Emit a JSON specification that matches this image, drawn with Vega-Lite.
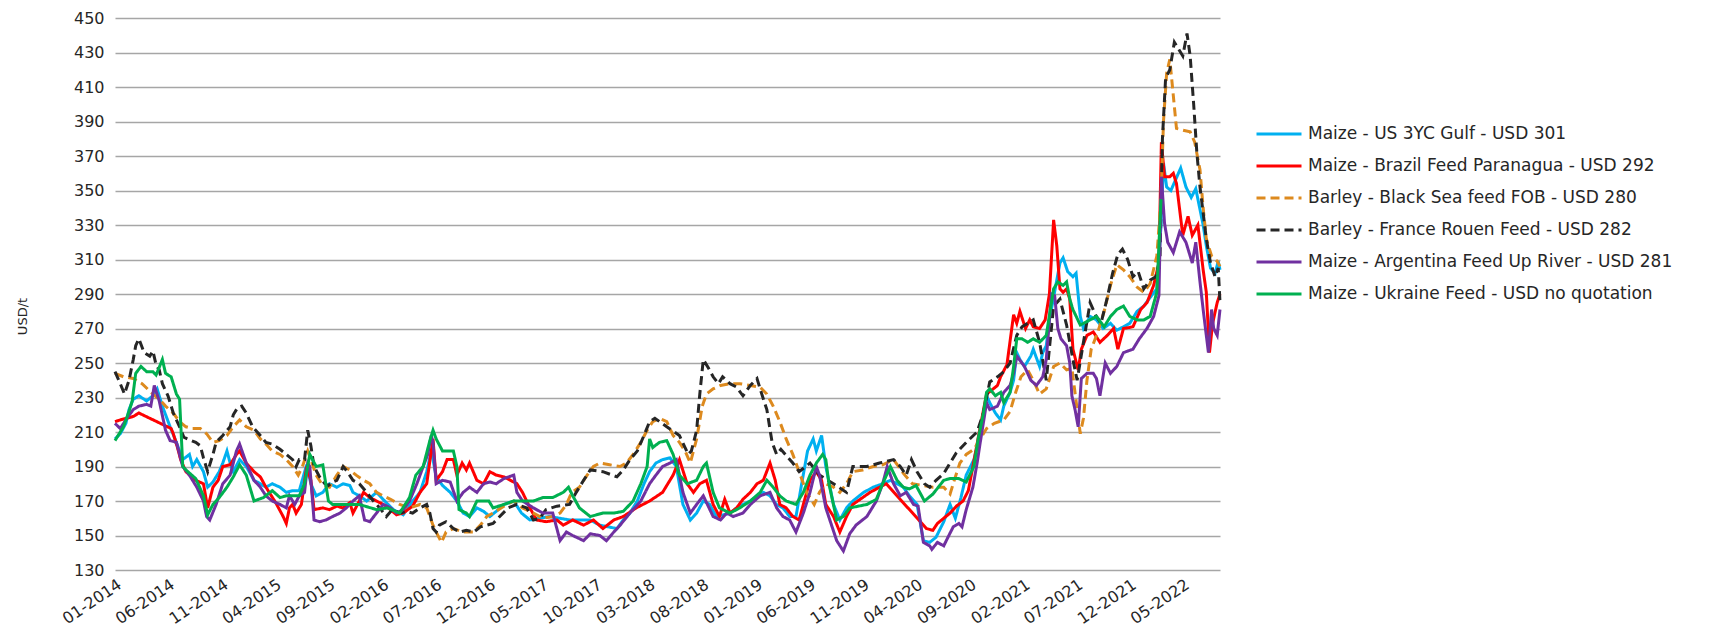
{
"$schema": "https://vega.github.io/schema/vega-lite/v6.json",
"width": 1105, "height": 552,
"autosize": {"type": "none"},
"padding": {"left": 115, "top": 18, "right": 491, "bottom": 74},
"background": "white",
"config": {"view": {"stroke": null}, "font": "DejaVu Sans"},
"data": {"values": [
{"s":"us","d":"2014-01-01","v":206},{"s":"us","d":"2014-01-16","v":209},{"s":"us","d":"2014-02-01","v":215},{"s":"us","d":"2014-02-10","v":223},{"s":"us","d":"2014-02-22","v":229},{"s":"us","d":"2014-03-10","v":231},{"s":"us","d":"2014-04-01","v":228},{"s":"us","d":"2014-04-19","v":231},{"s":"us","d":"2014-05-01","v":235},{"s":"us","d":"2014-05-16","v":225},{"s":"us","d":"2014-06-07","v":213},{"s":"us","d":"2014-06-25","v":204},{"s":"us","d":"2014-07-04","v":199},{"s":"us","d":"2014-07-13","v":194},{"s":"us","d":"2014-08-01","v":197},{"s":"us","d":"2014-08-10","v":190},{"s":"us","d":"2014-08-22","v":194},{"s":"us","d":"2014-09-10","v":187},{"s":"us","d":"2014-09-22","v":178},{"s":"us","d":"2014-10-07","v":181},{"s":"us","d":"2014-10-25","v":187},{"s":"us","d":"2014-11-04","v":192},{"s":"us","d":"2014-11-16","v":199},{"s":"us","d":"2014-11-25","v":192},{"s":"us","d":"2014-12-04","v":187},{"s":"us","d":"2014-12-22","v":194},{"s":"us","d":"2015-01-10","v":190},{"s":"us","d":"2015-02-01","v":182},{"s":"us","d":"2015-02-19","v":180},{"s":"us","d":"2015-03-07","v":178},{"s":"us","d":"2015-03-25","v":180},{"s":"us","d":"2015-04-16","v":178},{"s":"us","d":"2015-05-04","v":175},{"s":"us","d":"2015-05-22","v":176},{"s":"us","d":"2015-06-10","v":176},{"s":"us","d":"2015-07-01","v":191},{"s":"us","d":"2015-07-13","v":180},{"s":"us","d":"2015-07-28","v":173},{"s":"us","d":"2015-08-16","v":175},{"s":"us","d":"2015-09-04","v":180},{"s":"us","d":"2015-09-25","v":178},{"s":"us","d":"2015-10-13","v":180},{"s":"us","d":"2015-11-01","v":179},{"s":"us","d":"2015-11-10","v":175},{"s":"us","d":"2015-11-28","v":173},{"s":"us","d":"2015-12-19","v":170},{"s":"us","d":"2016-01-16","v":175},{"s":"us","d":"2016-02-13","v":169},{"s":"us","d":"2016-03-04","v":165},{"s":"us","d":"2016-04-01","v":162},{"s":"us","d":"2016-04-28","v":170},{"s":"us","d":"2016-05-19","v":175},{"s":"us","d":"2016-06-07","v":187},{"s":"us","d":"2016-06-20","v":199},{"s":"us","d":"2016-06-25","v":194},{"s":"us","d":"2016-07-04","v":184},{"s":"us","d":"2016-07-22","v":179},{"s":"us","d":"2016-08-13","v":175},{"s":"us","d":"2016-09-01","v":170},{"s":"us","d":"2016-09-19","v":163},{"s":"us","d":"2016-10-07","v":161},{"s":"us","d":"2016-10-28","v":166},{"s":"us","d":"2016-11-16","v":164},{"s":"us","d":"2016-12-04","v":161},{"s":"us","d":"2016-12-22","v":164},{"s":"us","d":"2017-01-13","v":168},{"s":"us","d":"2017-02-10","v":170},{"s":"us","d":"2017-03-04","v":163},{"s":"us","d":"2017-03-28","v":159},{"s":"us","d":"2017-05-22","v":161},{"s":"us","d":"2017-07-19","v":159},{"s":"us","d":"2017-09-16","v":159},{"s":"us","d":"2017-10-13","v":156},{"s":"us","d":"2017-12-01","v":154},{"s":"us","d":"2017-12-19","v":159},{"s":"us","d":"2018-01-07","v":163},{"s":"us","d":"2018-01-28","v":170},{"s":"us","d":"2018-02-16","v":180},{"s":"us","d":"2018-03-04","v":187},{"s":"us","d":"2018-03-22","v":192},{"s":"us","d":"2018-04-10","v":194},{"s":"us","d":"2018-05-01","v":195},{"s":"us","d":"2018-05-19","v":190},{"s":"us","d":"2018-06-07","v":168},{"s":"us","d":"2018-06-28","v":159},{"s":"us","d":"2018-07-16","v":163},{"s":"us","d":"2018-08-04","v":170},{"s":"us","d":"2018-08-22","v":168},{"s":"us","d":"2018-09-10","v":161},{"s":"us","d":"2018-10-19","v":163},{"s":"us","d":"2018-11-07","v":166},{"s":"us","d":"2018-11-25","v":168},{"s":"us","d":"2018-12-16","v":170},{"s":"us","d":"2019-01-04","v":173},{"s":"us","d":"2019-01-22","v":175},{"s":"us","d":"2019-02-10","v":173},{"s":"us","d":"2019-02-28","v":168},{"s":"us","d":"2019-03-19","v":166},{"s":"us","d":"2019-04-07","v":161},{"s":"us","d":"2019-04-25","v":161},{"s":"us","d":"2019-05-13","v":182},{"s":"us","d":"2019-05-28","v":199},{"s":"us","d":"2019-06-13","v":206},{"s":"us","d":"2019-06-22","v":199},{"s":"us","d":"2019-07-07","v":208},{"s":"us","d":"2019-07-19","v":190},{"s":"us","d":"2019-08-10","v":168},{"s":"us","d":"2019-08-28","v":159},{"s":"us","d":"2019-09-16","v":166},{"s":"us","d":"2019-10-04","v":170},{"s":"us","d":"2019-11-04","v":175},{"s":"us","d":"2019-12-01","v":178},{"s":"us","d":"2019-12-28","v":180},{"s":"us","d":"2020-01-19","v":182},{"s":"us","d":"2020-02-07","v":180},{"s":"us","d":"2020-02-25","v":178},{"s":"us","d":"2020-03-13","v":173},{"s":"us","d":"2020-04-04","v":168},{"s":"us","d":"2020-04-22","v":147},{"s":"us","d":"2020-05-10","v":146},{"s":"us","d":"2020-05-28","v":149},{"s":"us","d":"2020-06-19","v":158},{"s":"us","d":"2020-07-07","v":168},{"s":"us","d":"2020-07-22","v":160},{"s":"us","d":"2020-08-07","v":172},{"s":"us","d":"2020-08-22","v":185},{"s":"us","d":"2020-09-13","v":194},{"s":"us","d":"2020-10-01","v":209},{"s":"us","d":"2020-10-19","v":231},{"s":"us","d":"2020-10-28","v":227},{"s":"us","d":"2020-11-13","v":221},{"s":"us","d":"2020-11-28","v":217},{"s":"us","d":"2020-12-07","v":225},{"s":"us","d":"2020-12-25","v":233},{"s":"us","d":"2021-01-04","v":240},{"s":"us","d":"2021-01-13","v":256},{"s":"us","d":"2021-01-22","v":252},{"s":"us","d":"2021-02-04","v":248},{"s":"us","d":"2021-02-22","v":254},{"s":"us","d":"2021-03-01","v":258},{"s":"us","d":"2021-03-19","v":248},{"s":"us","d":"2021-03-28","v":256},{"s":"us","d":"2021-04-07","v":260},{"s":"us","d":"2021-04-16","v":275},{"s":"us","d":"2021-04-28","v":288},{"s":"us","d":"2021-05-16","v":308},{"s":"us","d":"2021-05-25","v":311},{"s":"us","d":"2021-06-07","v":303},{"s":"us","d":"2021-06-22","v":300},{"s":"us","d":"2021-07-01","v":302},{"s":"us","d":"2021-07-13","v":277},{"s":"us","d":"2021-07-22","v":270},{"s":"us","d":"2021-08-10","v":277},{"s":"us","d":"2021-08-28","v":275},{"s":"us","d":"2021-09-16","v":270},{"s":"us","d":"2021-10-07","v":273},{"s":"us","d":"2021-10-25","v":269},{"s":"us","d":"2021-11-13","v":271},{"s":"us","d":"2021-12-01","v":273},{"s":"us","d":"2021-12-22","v":280},{"s":"us","d":"2022-01-10","v":283},{"s":"us","d":"2022-01-28","v":288},{"s":"us","d":"2022-02-16","v":293},{"s":"us","d":"2022-02-28","v":330},{"s":"us","d":"2022-03-07","v":366},{"s":"us","d":"2022-03-16","v":352},{"s":"us","d":"2022-03-28","v":350},{"s":"us","d":"2022-04-10","v":356},{"s":"us","d":"2022-04-25","v":363},{"s":"us","d":"2022-05-10","v":352},{"s":"us","d":"2022-05-25","v":346},{"s":"us","d":"2022-06-07","v":351},{"s":"us","d":"2022-06-16","v":342},{"s":"us","d":"2022-06-28","v":330},{"s":"us","d":"2022-07-07","v":318},{"s":"us","d":"2022-07-19","v":305},{"s":"us","d":"2022-08-01","v":302},{"s":"us","d":"2022-08-10","v":309},{"s":"us","d":"2022-08-15","v":304},
{"s":"br","d":"2014-01-01","v":216},{"s":"br","d":"2014-01-16","v":217},{"s":"br","d":"2014-02-04","v":218},{"s":"br","d":"2014-02-22","v":219},{"s":"br","d":"2014-03-10","v":221},{"s":"br","d":"2014-06-10","v":212},{"s":"br","d":"2014-06-16","v":209},{"s":"br","d":"2014-06-28","v":201},{"s":"br","d":"2014-07-07","v":194},{"s":"br","d":"2014-07-22","v":187},{"s":"br","d":"2014-08-19","v":182},{"s":"br","d":"2014-09-10","v":180},{"s":"br","d":"2014-09-22","v":166},{"s":"br","d":"2014-10-07","v":178},{"s":"br","d":"2014-10-22","v":182},{"s":"br","d":"2014-11-04","v":190},{"s":"br","d":"2014-11-25","v":191},{"s":"br","d":"2014-12-13","v":197},{"s":"br","d":"2014-12-22","v":199},{"s":"br","d":"2015-01-10","v":192},{"s":"br","d":"2015-02-01","v":187},{"s":"br","d":"2015-02-19","v":184},{"s":"br","d":"2015-03-07","v":178},{"s":"br","d":"2015-04-04","v":169},{"s":"br","d":"2015-04-25","v":161},{"s":"br","d":"2015-05-04","v":157},{"s":"br","d":"2015-05-13","v":166},{"s":"br","d":"2015-05-22","v":168},{"s":"br","d":"2015-06-01","v":163},{"s":"br","d":"2015-06-16","v":168},{"s":"br","d":"2015-07-01","v":190},{"s":"br","d":"2015-07-13","v":182},{"s":"br","d":"2015-07-22","v":165},{"s":"br","d":"2015-08-16","v":166},{"s":"br","d":"2015-09-04","v":165},{"s":"br","d":"2015-09-25","v":167},{"s":"br","d":"2015-10-13","v":166},{"s":"br","d":"2015-11-01","v":169},{"s":"br","d":"2015-11-10","v":163},{"s":"br","d":"2015-11-28","v":170},{"s":"br","d":"2015-12-10","v":175},{"s":"br","d":"2015-12-28","v":172},{"s":"br","d":"2016-01-16","v":170},{"s":"br","d":"2016-02-13","v":167},{"s":"br","d":"2016-03-13","v":162},{"s":"br","d":"2016-04-01","v":163},{"s":"br","d":"2016-04-28","v":167},{"s":"br","d":"2016-05-19","v":175},{"s":"br","d":"2016-06-07","v":180},{"s":"br","d":"2016-06-20","v":199},{"s":"br","d":"2016-06-25","v":206},{"s":"br","d":"2016-07-04","v":182},{"s":"br","d":"2016-07-22","v":187},{"s":"br","d":"2016-08-04","v":194},{"s":"br","d":"2016-08-22","v":194},{"s":"br","d":"2016-09-01","v":185},{"s":"br","d":"2016-09-16","v":192},{"s":"br","d":"2016-09-28","v":188},{"s":"br","d":"2016-10-07","v":192},{"s":"br","d":"2016-10-28","v":182},{"s":"br","d":"2016-11-16","v":180},{"s":"br","d":"2016-12-04","v":187},{"s":"br","d":"2016-12-22","v":185},{"s":"br","d":"2017-01-13","v":184},{"s":"br","d":"2017-02-19","v":180},{"s":"br","d":"2017-03-07","v":175},{"s":"br","d":"2017-03-28","v":166},{"s":"br","d":"2017-04-16","v":159},{"s":"br","d":"2017-05-13","v":158},{"s":"br","d":"2017-06-13","v":159},{"s":"br","d":"2017-07-01","v":156},{"s":"br","d":"2017-07-28","v":159},{"s":"br","d":"2017-08-28","v":156},{"s":"br","d":"2017-09-25","v":159},{"s":"br","d":"2017-10-22","v":154},{"s":"br","d":"2017-11-22","v":159},{"s":"br","d":"2017-12-19","v":161},{"s":"br","d":"2018-01-25","v":166},{"s":"br","d":"2018-03-04","v":170},{"s":"br","d":"2018-04-10","v":175},{"s":"br","d":"2018-05-10","v":185},{"s":"br","d":"2018-05-28","v":194},{"s":"br","d":"2018-06-19","v":180},{"s":"br","d":"2018-07-07","v":175},{"s":"br","d":"2018-07-25","v":180},{"s":"br","d":"2018-08-13","v":182},{"s":"br","d":"2018-09-01","v":168},{"s":"br","d":"2018-09-19","v":161},{"s":"br","d":"2018-10-04","v":171},{"s":"br","d":"2018-10-19","v":163},{"s":"br","d":"2018-11-07","v":166},{"s":"br","d":"2018-11-25","v":171},{"s":"br","d":"2018-12-16","v":175},{"s":"br","d":"2019-01-04","v":180},{"s":"br","d":"2019-01-22","v":182},{"s":"br","d":"2019-02-10","v":192},{"s":"br","d":"2019-02-25","v":182},{"s":"br","d":"2019-03-10","v":168},{"s":"br","d":"2019-03-28","v":166},{"s":"br","d":"2019-04-16","v":161},{"s":"br","d":"2019-05-04","v":159},{"s":"br","d":"2019-05-16","v":168},{"s":"br","d":"2019-06-04","v":182},{"s":"br","d":"2019-06-22","v":187},{"s":"br","d":"2019-07-07","v":182},{"s":"br","d":"2019-07-19","v":168},{"s":"br","d":"2019-08-10","v":161},{"s":"br","d":"2019-08-28","v":152},{"s":"br","d":"2019-09-16","v":161},{"s":"br","d":"2019-10-04","v":168},{"s":"br","d":"2019-10-25","v":171},{"s":"br","d":"2019-11-22","v":175},{"s":"br","d":"2019-12-19","v":178},{"s":"br","d":"2020-01-07","v":180},{"s":"br","d":"2020-05-01","v":154},{"s":"br","d":"2020-05-19","v":153},{"s":"br","d":"2020-06-01","v":157},{"s":"br","d":"2020-06-19","v":160},{"s":"br","d":"2020-07-07","v":163},{"s":"br","d":"2020-07-25","v":167},{"s":"br","d":"2020-08-13","v":170},{"s":"br","d":"2020-08-28","v":176},{"s":"br","d":"2020-09-10","v":190},{"s":"br","d":"2020-10-01","v":213},{"s":"br","d":"2020-10-19","v":232},{"s":"br","d":"2020-11-07","v":235},{"s":"br","d":"2020-11-19","v":237},{"s":"br","d":"2020-11-28","v":242},{"s":"br","d":"2020-12-16","v":249},{"s":"br","d":"2021-01-04","v":278},{"s":"br","d":"2021-01-13","v":273},{"s":"br","d":"2021-01-22","v":280},{"s":"br","d":"2021-02-07","v":270},{"s":"br","d":"2021-02-19","v":275},{"s":"br","d":"2021-03-01","v":271},{"s":"br","d":"2021-03-19","v":270},{"s":"br","d":"2021-04-04","v":275},{"s":"br","d":"2021-04-16","v":290},{"s":"br","d":"2021-04-28","v":333},{"s":"br","d":"2021-05-07","v":318},{"s":"br","d":"2021-05-16","v":293},{"s":"br","d":"2021-05-25","v":291},{"s":"br","d":"2021-06-04","v":293},{"s":"br","d":"2021-06-13","v":287},{"s":"br","d":"2021-06-22","v":258},{"s":"br","d":"2021-07-07","v":246},{"s":"br","d":"2021-07-16","v":258},{"s":"br","d":"2021-08-01","v":266},{"s":"br","d":"2021-08-19","v":268},{"s":"br","d":"2021-09-07","v":262},{"s":"br","d":"2021-09-28","v":266},{"s":"br","d":"2021-10-16","v":270},{"s":"br","d":"2021-10-28","v":258},{"s":"br","d":"2021-11-13","v":270},{"s":"br","d":"2021-12-10","v":271},{"s":"br","d":"2022-01-01","v":281},{"s":"br","d":"2022-01-19","v":285},{"s":"br","d":"2022-02-07","v":295},{"s":"br","d":"2022-02-22","v":308},{"s":"br","d":"2022-03-01","v":378},{"s":"br","d":"2022-03-10","v":358},{"s":"br","d":"2022-03-25","v":358},{"s":"br","d":"2022-04-04","v":360},{"s":"br","d":"2022-04-13","v":354},{"s":"br","d":"2022-05-01","v":324},{"s":"br","d":"2022-05-16","v":335},{"s":"br","d":"2022-05-28","v":324},{"s":"br","d":"2022-06-13","v":330},{"s":"br","d":"2022-06-28","v":304},{"s":"br","d":"2022-07-07","v":291},{"s":"br","d":"2022-07-16","v":256},{"s":"br","d":"2022-07-25","v":273},{"s":"br","d":"2022-08-07","v":285},{"s":"br","d":"2022-08-15","v":290},
{"s":"bs","d":"2014-01-01","v":244},{"s":"bs","d":"2014-01-25","v":242},{"s":"bs","d":"2014-02-22","v":241},{"s":"bs","d":"2014-03-19","v":238},{"s":"bs","d":"2014-04-19","v":232},{"s":"bs","d":"2014-05-07","v":229},{"s":"bs","d":"2014-05-25","v":225},{"s":"bs","d":"2014-06-16","v":221},{"s":"bs","d":"2014-07-04","v":216},{"s":"bs","d":"2014-07-22","v":213},{"s":"bs","d":"2014-08-10","v":212},{"s":"bs","d":"2014-09-01","v":212},{"s":"bs","d":"2014-09-19","v":209},{"s":"bs","d":"2014-10-07","v":204},{"s":"bs","d":"2014-10-25","v":205},{"s":"bs","d":"2014-11-16","v":208},{"s":"bs","d":"2014-12-04","v":213},{"s":"bs","d":"2014-12-22","v":217},{"s":"bs","d":"2015-01-10","v":213},{"s":"bs","d":"2015-02-01","v":211},{"s":"bs","d":"2015-02-19","v":206},{"s":"bs","d":"2015-03-07","v":203},{"s":"bs","d":"2015-03-25","v":199},{"s":"bs","d":"2015-04-16","v":197},{"s":"bs","d":"2015-05-04","v":194},{"s":"bs","d":"2015-05-22","v":190},{"s":"bs","d":"2015-06-07","v":185},{"s":"bs","d":"2015-06-19","v":190},{"s":"bs","d":"2015-07-04","v":199},{"s":"bs","d":"2015-07-13","v":194},{"s":"bs","d":"2015-07-28","v":185},{"s":"bs","d":"2015-08-16","v":179},{"s":"bs","d":"2015-09-04","v":178},{"s":"bs","d":"2015-09-25","v":185},{"s":"bs","d":"2015-10-13","v":190},{"s":"bs","d":"2015-11-01","v":188},{"s":"bs","d":"2015-11-19","v":185},{"s":"bs","d":"2015-12-10","v":182},{"s":"bs","d":"2015-12-28","v":180},{"s":"bs","d":"2016-01-16","v":175},{"s":"bs","d":"2016-02-04","v":173},{"s":"bs","d":"2016-02-25","v":171},{"s":"bs","d":"2016-03-22","v":168},{"s":"bs","d":"2016-04-19","v":166},{"s":"bs","d":"2016-05-19","v":168},{"s":"bs","d":"2016-06-07","v":166},{"s":"bs","d":"2016-06-25","v":156},{"s":"bs","d":"2016-07-04","v":152},{"s":"bs","d":"2016-07-19","v":146},{"s":"bs","d":"2016-08-01","v":152},{"s":"bs","d":"2016-08-22","v":154},{"s":"bs","d":"2016-09-19","v":152},{"s":"bs","d":"2016-10-19","v":152},{"s":"bs","d":"2016-11-07","v":156},{"s":"bs","d":"2016-11-25","v":161},{"s":"bs","d":"2016-12-13","v":163},{"s":"bs","d":"2017-01-13","v":167},{"s":"bs","d":"2017-02-10","v":170},{"s":"bs","d":"2017-03-07","v":166},{"s":"bs","d":"2017-04-07","v":163},{"s":"bs","d":"2017-05-04","v":160},{"s":"bs","d":"2017-06-01","v":161},{"s":"bs","d":"2017-06-22","v":163},{"s":"bs","d":"2017-07-10","v":168},{"s":"bs","d":"2017-07-25","v":175},{"s":"bs","d":"2017-08-16","v":178},{"s":"bs","d":"2017-09-07","v":185},{"s":"bs","d":"2017-09-25","v":190},{"s":"bs","d":"2017-10-13","v":192},{"s":"bs","d":"2017-11-10","v":191},{"s":"bs","d":"2017-12-10","v":190},{"s":"bs","d":"2017-12-28","v":192},{"s":"bs","d":"2018-01-16","v":197},{"s":"bs","d":"2018-02-07","v":204},{"s":"bs","d":"2018-02-25","v":211},{"s":"bs","d":"2018-03-13","v":216},{"s":"bs","d":"2018-04-01","v":218},{"s":"bs","d":"2018-04-22","v":216},{"s":"bs","d":"2018-05-10","v":208},{"s":"bs","d":"2018-05-28","v":204},{"s":"bs","d":"2018-06-13","v":199},{"s":"bs","d":"2018-06-28","v":192},{"s":"bs","d":"2018-07-16","v":206},{"s":"bs","d":"2018-08-01","v":225},{"s":"bs","d":"2018-08-13","v":232},{"s":"bs","d":"2018-09-01","v":235},{"s":"bs","d":"2018-09-22","v":237},{"s":"bs","d":"2018-10-19","v":238},{"s":"bs","d":"2018-11-16","v":238},{"s":"bs","d":"2018-12-16","v":237},{"s":"bs","d":"2019-01-13","v":236},{"s":"bs","d":"2019-02-01","v":232},{"s":"bs","d":"2019-02-19","v":225},{"s":"bs","d":"2019-03-10","v":216},{"s":"bs","d":"2019-03-28","v":206},{"s":"bs","d":"2019-04-16","v":197},{"s":"bs","d":"2019-05-04","v":187},{"s":"bs","d":"2019-05-25","v":175},{"s":"bs","d":"2019-06-16","v":168},{"s":"bs","d":"2019-07-01","v":175},{"s":"bs","d":"2019-07-19","v":180},{"s":"bs","d":"2019-08-10","v":178},{"s":"bs","d":"2019-08-28","v":175},{"s":"bs","d":"2019-09-16","v":180},{"s":"bs","d":"2019-10-04","v":187},{"s":"bs","d":"2019-11-01","v":188},{"s":"bs","d":"2019-12-01","v":190},{"s":"bs","d":"2019-12-28","v":191},{"s":"bs","d":"2020-01-28","v":194},{"s":"bs","d":"2020-02-25","v":186},{"s":"bs","d":"2020-03-22","v":180},{"s":"bs","d":"2020-04-22","v":179},{"s":"bs","d":"2020-05-19","v":178},{"s":"bs","d":"2020-06-19","v":178},{"s":"bs","d":"2020-07-07","v":174},{"s":"bs","d":"2020-07-19","v":182},{"s":"bs","d":"2020-08-04","v":192},{"s":"bs","d":"2020-08-22","v":197},{"s":"bs","d":"2020-09-13","v":200},{"s":"bs","d":"2020-10-01","v":206},{"s":"bs","d":"2020-10-19","v":212},{"s":"bs","d":"2020-11-10","v":215},{"s":"bs","d":"2020-12-07","v":217},{"s":"bs","d":"2020-12-25","v":222},{"s":"bs","d":"2021-01-10","v":233},{"s":"bs","d":"2021-01-25","v":242},{"s":"bs","d":"2021-02-13","v":246},{"s":"bs","d":"2021-03-01","v":240},{"s":"bs","d":"2021-03-19","v":232},{"s":"bs","d":"2021-04-07","v":235},{"s":"bs","d":"2021-04-28","v":248},{"s":"bs","d":"2021-05-16","v":250},{"s":"bs","d":"2021-06-04","v":246},{"s":"bs","d":"2021-06-19","v":247},{"s":"bs","d":"2021-07-01","v":228},{"s":"bs","d":"2021-07-13","v":209},{"s":"bs","d":"2021-07-22","v":218},{"s":"bs","d":"2021-08-01","v":240},{"s":"bs","d":"2021-08-13","v":258},{"s":"bs","d":"2021-09-01","v":268},{"s":"bs","d":"2021-09-19","v":280},{"s":"bs","d":"2021-10-07","v":295},{"s":"bs","d":"2021-10-25","v":307},{"s":"bs","d":"2021-11-13","v":304},{"s":"bs","d":"2021-12-01","v":300},{"s":"bs","d":"2021-12-22","v":294},{"s":"bs","d":"2022-01-10","v":291},{"s":"bs","d":"2022-01-28","v":296},{"s":"bs","d":"2022-02-16","v":312},{"s":"bs","d":"2022-02-28","v":345},{"s":"bs","d":"2022-03-07","v":390},{"s":"bs","d":"2022-03-16","v":418},{"s":"bs","d":"2022-03-25","v":426},{"s":"bs","d":"2022-04-04","v":405},{"s":"bs","d":"2022-04-13","v":386},{"s":"bs","d":"2022-05-01","v":385},{"s":"bs","d":"2022-05-22","v":384},{"s":"bs","d":"2022-06-04","v":378},{"s":"bs","d":"2022-06-19","v":362},{"s":"bs","d":"2022-06-28","v":340},{"s":"bs","d":"2022-07-07","v":322},{"s":"bs","d":"2022-07-22","v":312},{"s":"bs","d":"2022-08-07","v":309},{"s":"bs","d":"2022-08-15","v":306},
{"s":"fr","d":"2014-01-01","v":245},{"s":"fr","d":"2014-01-16","v":238},{"s":"fr","d":"2014-01-28","v":232},{"s":"fr","d":"2014-02-10","v":240},{"s":"fr","d":"2014-02-22","v":252},{"s":"fr","d":"2014-03-01","v":260},{"s":"fr","d":"2014-03-10","v":264},{"s":"fr","d":"2014-03-25","v":256},{"s":"fr","d":"2014-04-10","v":254},{"s":"fr","d":"2014-04-19","v":257},{"s":"fr","d":"2014-04-28","v":249},{"s":"fr","d":"2014-05-07","v":246},{"s":"fr","d":"2014-05-16","v":238},{"s":"fr","d":"2014-06-01","v":231},{"s":"fr","d":"2014-06-16","v":221},{"s":"fr","d":"2014-07-04","v":213},{"s":"fr","d":"2014-07-16","v":207},{"s":"fr","d":"2014-08-07","v":205},{"s":"fr","d":"2014-08-19","v":204},{"s":"fr","d":"2014-09-01","v":202},{"s":"fr","d":"2014-09-10","v":195},{"s":"fr","d":"2014-09-22","v":187},{"s":"fr","d":"2014-10-07","v":197},{"s":"fr","d":"2014-10-16","v":204},{"s":"fr","d":"2014-11-04","v":208},{"s":"fr","d":"2014-11-25","v":213},{"s":"fr","d":"2014-12-04","v":220},{"s":"fr","d":"2014-12-16","v":224},{"s":"fr","d":"2014-12-28","v":225},{"s":"fr","d":"2015-01-10","v":221},{"s":"fr","d":"2015-01-28","v":213},{"s":"fr","d":"2015-02-19","v":208},{"s":"fr","d":"2015-03-07","v":204},{"s":"fr","d":"2015-03-25","v":203},{"s":"fr","d":"2015-04-16","v":200},{"s":"fr","d":"2015-05-04","v":197},{"s":"fr","d":"2015-05-22","v":194},{"s":"fr","d":"2015-06-01","v":190},{"s":"fr","d":"2015-06-10","v":194},{"s":"fr","d":"2015-06-25","v":194},{"s":"fr","d":"2015-07-04","v":211},{"s":"fr","d":"2015-07-13","v":202},{"s":"fr","d":"2015-07-22","v":190},{"s":"fr","d":"2015-08-07","v":184},{"s":"fr","d":"2015-08-22","v":180},{"s":"fr","d":"2015-09-01","v":179},{"s":"fr","d":"2015-09-13","v":181},{"s":"fr","d":"2015-09-25","v":182},{"s":"fr","d":"2015-10-13","v":190},{"s":"fr","d":"2015-10-25","v":187},{"s":"fr","d":"2015-11-10","v":182},{"s":"fr","d":"2015-11-28","v":180},{"s":"fr","d":"2015-12-19","v":175},{"s":"fr","d":"2016-01-07","v":170},{"s":"fr","d":"2016-01-25","v":166},{"s":"fr","d":"2016-02-13","v":161},{"s":"fr","d":"2016-03-01","v":165},{"s":"fr","d":"2016-03-22","v":163},{"s":"fr","d":"2016-04-10","v":164},{"s":"fr","d":"2016-04-28","v":163},{"s":"fr","d":"2016-05-19","v":166},{"s":"fr","d":"2016-06-07","v":168},{"s":"fr","d":"2016-06-16","v":163},{"s":"fr","d":"2016-06-25","v":154},{"s":"fr","d":"2016-07-04","v":152},{"s":"fr","d":"2016-07-13","v":156},{"s":"fr","d":"2016-08-01","v":158},{"s":"fr","d":"2016-08-22","v":154},{"s":"fr","d":"2016-09-10","v":152},{"s":"fr","d":"2016-09-28","v":153},{"s":"fr","d":"2016-10-19","v":152},{"s":"fr","d":"2016-11-07","v":155},{"s":"fr","d":"2016-11-25","v":156},{"s":"fr","d":"2016-12-13","v":157},{"s":"fr","d":"2017-01-01","v":161},{"s":"fr","d":"2017-01-25","v":166},{"s":"fr","d":"2017-02-19","v":168},{"s":"fr","d":"2017-03-19","v":166},{"s":"fr","d":"2017-04-07","v":159},{"s":"fr","d":"2017-04-25","v":160},{"s":"fr","d":"2017-05-13","v":165},{"s":"fr","d":"2017-06-13","v":167},{"s":"fr","d":"2017-07-19","v":168},{"s":"fr","d":"2017-08-07","v":175},{"s":"fr","d":"2017-08-28","v":182},{"s":"fr","d":"2017-09-16","v":188},{"s":"fr","d":"2017-10-22","v":187},{"s":"fr","d":"2017-12-01","v":184},{"s":"fr","d":"2017-12-19","v":188},{"s":"fr","d":"2018-01-07","v":194},{"s":"fr","d":"2018-01-28","v":199},{"s":"fr","d":"2018-02-16","v":208},{"s":"fr","d":"2018-03-04","v":216},{"s":"fr","d":"2018-03-19","v":218},{"s":"fr","d":"2018-04-22","v":213},{"s":"fr","d":"2018-05-28","v":208},{"s":"fr","d":"2018-06-22","v":197},{"s":"fr","d":"2018-07-01","v":199},{"s":"fr","d":"2018-07-16","v":211},{"s":"fr","d":"2018-07-25","v":232},{"s":"fr","d":"2018-08-04","v":252},{"s":"fr","d":"2018-08-19","v":247},{"s":"fr","d":"2018-09-01","v":242},{"s":"fr","d":"2018-09-16","v":238},{"s":"fr","d":"2018-09-28","v":242},{"s":"fr","d":"2018-10-19","v":238},{"s":"fr","d":"2018-11-07","v":236},{"s":"fr","d":"2018-11-25","v":231},{"s":"fr","d":"2018-12-16","v":237},{"s":"fr","d":"2019-01-04","v":241},{"s":"fr","d":"2019-01-16","v":233},{"s":"fr","d":"2019-02-01","v":223},{"s":"fr","d":"2019-02-16","v":204},{"s":"fr","d":"2019-03-01","v":197},{"s":"fr","d":"2019-03-13","v":200},{"s":"fr","d":"2019-04-16","v":192},{"s":"fr","d":"2019-05-04","v":187},{"s":"fr","d":"2019-06-04","v":192},{"s":"fr","d":"2019-07-01","v":185},{"s":"fr","d":"2019-08-10","v":180},{"s":"fr","d":"2019-09-16","v":175},{"s":"fr","d":"2019-10-04","v":190},{"s":"fr","d":"2019-11-13","v":190},{"s":"fr","d":"2019-12-19","v":192},{"s":"fr","d":"2020-01-28","v":194},{"s":"fr","d":"2020-02-16","v":190},{"s":"fr","d":"2020-03-04","v":185},{"s":"fr","d":"2020-03-19","v":194},{"s":"fr","d":"2020-04-04","v":187},{"s":"fr","d":"2020-04-25","v":180},{"s":"fr","d":"2020-05-10","v":178},{"s":"fr","d":"2020-05-28","v":182},{"s":"fr","d":"2020-06-19","v":186},{"s":"fr","d":"2020-07-07","v":192},{"s":"fr","d":"2020-07-25","v":198},{"s":"fr","d":"2020-08-22","v":204},{"s":"fr","d":"2020-09-22","v":210},{"s":"fr","d":"2020-10-10","v":221},{"s":"fr","d":"2020-10-28","v":239},{"s":"fr","d":"2020-11-19","v":242},{"s":"fr","d":"2020-12-07","v":245},{"s":"fr","d":"2020-12-25","v":250},{"s":"fr","d":"2021-01-13","v":266},{"s":"fr","d":"2021-01-28","v":271},{"s":"fr","d":"2021-02-13","v":273},{"s":"fr","d":"2021-03-01","v":275},{"s":"fr","d":"2021-03-19","v":262},{"s":"fr","d":"2021-04-07","v":240},{"s":"fr","d":"2021-04-28","v":283},{"s":"fr","d":"2021-05-16","v":287},{"s":"fr","d":"2021-06-04","v":272},{"s":"fr","d":"2021-06-22","v":252},{"s":"fr","d":"2021-07-04","v":240},{"s":"fr","d":"2021-07-22","v":262},{"s":"fr","d":"2021-08-10","v":285},{"s":"fr","d":"2021-08-25","v":278},{"s":"fr","d":"2021-09-10","v":273},{"s":"fr","d":"2021-09-28","v":288},{"s":"fr","d":"2021-10-13","v":302},{"s":"fr","d":"2021-10-28","v":313},{"s":"fr","d":"2021-11-10","v":316},{"s":"fr","d":"2021-11-25","v":310},{"s":"fr","d":"2021-12-10","v":300},{"s":"fr","d":"2021-12-25","v":303},{"s":"fr","d":"2022-01-10","v":293},{"s":"fr","d":"2022-01-28","v":298},{"s":"fr","d":"2022-02-13","v":300},{"s":"fr","d":"2022-02-25","v":310},{"s":"fr","d":"2022-03-04","v":380},{"s":"fr","d":"2022-03-13","v":415},{"s":"fr","d":"2022-03-25","v":420},{"s":"fr","d":"2022-04-07","v":436},{"s":"fr","d":"2022-04-19","v":432},{"s":"fr","d":"2022-05-01","v":428},{"s":"fr","d":"2022-05-13","v":441},{"s":"fr","d":"2022-05-22","v":428},{"s":"fr","d":"2022-06-01","v":400},{"s":"fr","d":"2022-06-10","v":372},{"s":"fr","d":"2022-06-19","v":352},{"s":"fr","d":"2022-06-28","v":337},{"s":"fr","d":"2022-07-07","v":322},{"s":"fr","d":"2022-07-19","v":308},{"s":"fr","d":"2022-08-01","v":300},{"s":"fr","d":"2022-08-10","v":305},{"s":"fr","d":"2022-08-15","v":285},
{"s":"ar","d":"2014-01-01","v":215},{"s":"ar","d":"2014-01-16","v":212},{"s":"ar","d":"2014-02-04","v":218},{"s":"ar","d":"2014-02-22","v":223},{"s":"ar","d":"2014-03-10","v":225},{"s":"ar","d":"2014-04-01","v":226},{"s":"ar","d":"2014-04-13","v":225},{"s":"ar","d":"2014-04-23","v":237},{"s":"ar","d":"2014-05-07","v":228},{"s":"ar","d":"2014-05-25","v":211},{"s":"ar","d":"2014-06-07","v":205},{"s":"ar","d":"2014-06-25","v":204},{"s":"ar","d":"2014-07-04","v":197},{"s":"ar","d":"2014-07-13","v":190},{"s":"ar","d":"2014-08-01","v":185},{"s":"ar","d":"2014-08-22","v":178},{"s":"ar","d":"2014-09-10","v":170},{"s":"ar","d":"2014-09-19","v":161},{"s":"ar","d":"2014-09-28","v":159},{"s":"ar","d":"2014-10-16","v":168},{"s":"ar","d":"2014-11-04","v":180},{"s":"ar","d":"2014-11-25","v":185},{"s":"ar","d":"2014-12-13","v":199},{"s":"ar","d":"2014-12-22","v":203},{"s":"ar","d":"2015-01-10","v":192},{"s":"ar","d":"2015-02-01","v":182},{"s":"ar","d":"2015-02-19","v":178},{"s":"ar","d":"2015-03-07","v":173},{"s":"ar","d":"2015-03-25","v":170},{"s":"ar","d":"2015-04-16","v":168},{"s":"ar","d":"2015-05-04","v":166},{"s":"ar","d":"2015-05-13","v":173},{"s":"ar","d":"2015-05-28","v":168},{"s":"ar","d":"2015-06-10","v":173},{"s":"ar","d":"2015-06-25","v":175},{"s":"ar","d":"2015-07-04","v":192},{"s":"ar","d":"2015-07-10","v":190},{"s":"ar","d":"2015-07-22","v":159},{"s":"ar","d":"2015-08-07","v":158},{"s":"ar","d":"2015-08-25","v":159},{"s":"ar","d":"2015-09-13","v":161},{"s":"ar","d":"2015-10-04","v":163},{"s":"ar","d":"2015-10-22","v":166},{"s":"ar","d":"2015-11-10","v":170},{"s":"ar","d":"2015-11-28","v":173},{"s":"ar","d":"2015-12-13","v":159},{"s":"ar","d":"2015-12-28","v":158},{"s":"ar","d":"2016-01-16","v":163},{"s":"ar","d":"2016-02-04","v":168},{"s":"ar","d":"2016-02-25","v":166},{"s":"ar","d":"2016-03-13","v":163},{"s":"ar","d":"2016-04-01","v":165},{"s":"ar","d":"2016-04-19","v":170},{"s":"ar","d":"2016-05-10","v":180},{"s":"ar","d":"2016-05-28","v":190},{"s":"ar","d":"2016-06-10","v":197},{"s":"ar","d":"2016-06-20","v":208},{"s":"ar","d":"2016-06-25","v":204},{"s":"ar","d":"2016-07-04","v":180},{"s":"ar","d":"2016-07-22","v":182},{"s":"ar","d":"2016-08-13","v":181},{"s":"ar","d":"2016-09-01","v":170},{"s":"ar","d":"2016-09-19","v":175},{"s":"ar","d":"2016-10-07","v":178},{"s":"ar","d":"2016-10-28","v":175},{"s":"ar","d":"2016-11-16","v":180},{"s":"ar","d":"2016-12-04","v":181},{"s":"ar","d":"2016-12-22","v":180},{"s":"ar","d":"2017-01-13","v":183},{"s":"ar","d":"2017-02-10","v":185},{"s":"ar","d":"2017-02-19","v":175},{"s":"ar","d":"2017-03-07","v":170},{"s":"ar","d":"2017-04-07","v":166},{"s":"ar","d":"2017-05-04","v":163},{"s":"ar","d":"2017-06-01","v":163},{"s":"ar","d":"2017-06-22","v":147},{"s":"ar","d":"2017-07-10","v":152},{"s":"ar","d":"2017-07-28","v":150},{"s":"ar","d":"2017-08-28","v":147},{"s":"ar","d":"2017-09-16","v":151},{"s":"ar","d":"2017-10-13","v":150},{"s":"ar","d":"2017-11-01","v":147},{"s":"ar","d":"2017-11-22","v":152},{"s":"ar","d":"2017-12-10","v":156},{"s":"ar","d":"2018-01-07","v":163},{"s":"ar","d":"2018-02-07","v":170},{"s":"ar","d":"2018-03-04","v":180},{"s":"ar","d":"2018-03-22","v":185},{"s":"ar","d":"2018-04-10","v":190},{"s":"ar","d":"2018-05-01","v":192},{"s":"ar","d":"2018-05-19","v":194},{"s":"ar","d":"2018-06-07","v":175},{"s":"ar","d":"2018-06-28","v":163},{"s":"ar","d":"2018-07-16","v":168},{"s":"ar","d":"2018-08-04","v":173},{"s":"ar","d":"2018-09-01","v":161},{"s":"ar","d":"2018-09-22","v":159},{"s":"ar","d":"2018-10-10","v":163},{"s":"ar","d":"2018-10-28","v":161},{"s":"ar","d":"2018-11-25","v":163},{"s":"ar","d":"2018-12-16","v":168},{"s":"ar","d":"2019-01-13","v":173},{"s":"ar","d":"2019-02-10","v":175},{"s":"ar","d":"2019-03-01","v":166},{"s":"ar","d":"2019-03-19","v":161},{"s":"ar","d":"2019-04-07","v":159},{"s":"ar","d":"2019-04-25","v":152},{"s":"ar","d":"2019-05-16","v":163},{"s":"ar","d":"2019-06-04","v":175},{"s":"ar","d":"2019-06-22","v":190},{"s":"ar","d":"2019-07-01","v":185},{"s":"ar","d":"2019-07-19","v":166},{"s":"ar","d":"2019-08-19","v":147},{"s":"ar","d":"2019-09-07","v":141},{"s":"ar","d":"2019-09-25","v":151},{"s":"ar","d":"2019-10-13","v":156},{"s":"ar","d":"2019-11-13","v":161},{"s":"ar","d":"2019-12-10","v":170},{"s":"ar","d":"2019-12-28","v":180},{"s":"ar","d":"2020-01-10","v":190},{"s":"ar","d":"2020-01-28","v":180},{"s":"ar","d":"2020-02-16","v":173},{"s":"ar","d":"2020-03-04","v":175},{"s":"ar","d":"2020-03-25","v":168},{"s":"ar","d":"2020-04-07","v":167},{"s":"ar","d":"2020-04-22","v":146},{"s":"ar","d":"2020-05-10","v":144},{"s":"ar","d":"2020-05-16","v":142},{"s":"ar","d":"2020-06-01","v":146},{"s":"ar","d":"2020-06-19","v":144},{"s":"ar","d":"2020-07-01","v":149},{"s":"ar","d":"2020-07-16","v":155},{"s":"ar","d":"2020-08-01","v":157},{"s":"ar","d":"2020-08-10","v":155},{"s":"ar","d":"2020-08-22","v":165},{"s":"ar","d":"2020-09-10","v":178},{"s":"ar","d":"2020-09-22","v":192},{"s":"ar","d":"2020-10-01","v":204},{"s":"ar","d":"2020-10-19","v":227},{"s":"ar","d":"2020-10-28","v":223},{"s":"ar","d":"2020-11-19","v":225},{"s":"ar","d":"2020-12-07","v":233},{"s":"ar","d":"2020-12-25","v":237},{"s":"ar","d":"2021-01-04","v":244},{"s":"ar","d":"2021-01-13","v":254},{"s":"ar","d":"2021-02-04","v":248},{"s":"ar","d":"2021-02-22","v":240},{"s":"ar","d":"2021-03-10","v":237},{"s":"ar","d":"2021-03-28","v":242},{"s":"ar","d":"2021-04-07","v":252},{"s":"ar","d":"2021-04-22","v":290},{"s":"ar","d":"2021-05-01","v":289},{"s":"ar","d":"2021-05-10","v":270},{"s":"ar","d":"2021-05-19","v":264},{"s":"ar","d":"2021-06-04","v":260},{"s":"ar","d":"2021-06-13","v":250},{"s":"ar","d":"2021-06-19","v":231},{"s":"ar","d":"2021-06-28","v":223},{"s":"ar","d":"2021-07-07","v":213},{"s":"ar","d":"2021-07-16","v":241},{"s":"ar","d":"2021-08-01","v":244},{"s":"ar","d":"2021-08-19","v":244},{"s":"ar","d":"2021-08-28","v":241},{"s":"ar","d":"2021-09-07","v":231},{"s":"ar","d":"2021-09-22","v":250},{"s":"ar","d":"2021-10-07","v":244},{"s":"ar","d":"2021-10-25","v":248},{"s":"ar","d":"2021-11-13","v":256},{"s":"ar","d":"2021-12-10","v":258},{"s":"ar","d":"2021-12-28","v":264},{"s":"ar","d":"2022-01-19","v":270},{"s":"ar","d":"2022-02-07","v":277},{"s":"ar","d":"2022-02-22","v":289},{"s":"ar","d":"2022-03-01","v":358},{"s":"ar","d":"2022-03-10","v":331},{"s":"ar","d":"2022-03-19","v":320},{"s":"ar","d":"2022-04-04","v":314},{"s":"ar","d":"2022-04-22","v":326},{"s":"ar","d":"2022-05-10","v":320},{"s":"ar","d":"2022-05-28","v":308},{"s":"ar","d":"2022-06-07","v":320},{"s":"ar","d":"2022-06-19","v":297},{"s":"ar","d":"2022-06-28","v":281},{"s":"ar","d":"2022-07-07","v":266},{"s":"ar","d":"2022-07-13","v":256},{"s":"ar","d":"2022-07-22","v":281},{"s":"ar","d":"2022-07-28","v":270},{"s":"ar","d":"2022-08-07","v":266},{"s":"ar","d":"2022-08-15","v":281},
{"s":"ua","d":"2014-01-01","v":205},{"s":"ua","d":"2014-01-25","v":213},{"s":"ua","d":"2014-02-10","v":222},{"s":"ua","d":"2014-02-19","v":228},{"s":"ua","d":"2014-03-01","v":244},{"s":"ua","d":"2014-03-16","v":248},{"s":"ua","d":"2014-04-01","v":245},{"s":"ua","d":"2014-04-19","v":245},{"s":"ua","d":"2014-04-28","v":243},{"s":"ua","d":"2014-05-16","v":252},{"s":"ua","d":"2014-05-25","v":244},{"s":"ua","d":"2014-06-10","v":242},{"s":"ua","d":"2014-06-25","v":232},{"s":"ua","d":"2014-07-04","v":229},{"s":"ua","d":"2014-07-13","v":190},{"s":"ua","d":"2014-07-22","v":188},{"s":"ua","d":"2014-08-19","v":183},{"s":"ua","d":"2014-09-10","v":173},{"s":"ua","d":"2014-09-22","v":162},{"s":"ua","d":"2014-10-07","v":168},{"s":"ua","d":"2014-10-25","v":172},{"s":"ua","d":"2014-11-16","v":178},{"s":"ua","d":"2014-12-04","v":184},{"s":"ua","d":"2014-12-22","v":191},{"s":"ua","d":"2015-01-10","v":185},{"s":"ua","d":"2015-02-01","v":170},{"s":"ua","d":"2015-02-28","v":172},{"s":"ua","d":"2015-03-25","v":176},{"s":"ua","d":"2015-04-16","v":172},{"s":"ua","d":"2015-05-04","v":173},{"s":"ua","d":"2015-06-10","v":173},{"s":"ua","d":"2015-06-25","v":180},{"s":"ua","d":"2015-07-10","v":197},{"s":"ua","d":"2015-07-28","v":190},{"s":"ua","d":"2015-08-16","v":191},{"s":"ua","d":"2015-09-01","v":170},{"s":"ua","d":"2015-09-13","v":168},{"s":"ua","d":"2015-10-16","v":168},{"s":"ua","d":"2015-11-28","v":168},{"s":"ua","d":"2016-01-16","v":165},{"s":"ua","d":"2016-02-16","v":166},{"s":"ua","d":"2016-03-22","v":163},{"s":"ua","d":"2016-04-19","v":172},{"s":"ua","d":"2016-05-07","v":185},{"s":"ua","d":"2016-05-28","v":190},{"s":"ua","d":"2016-06-16","v":205},{"s":"ua","d":"2016-06-25","v":211},{"s":"ua","d":"2016-07-04","v":206},{"s":"ua","d":"2016-07-22","v":199},{"s":"ua","d":"2016-08-22","v":199},{"s":"ua","d":"2016-09-01","v":190},{"s":"ua","d":"2016-09-07","v":165},{"s":"ua","d":"2016-09-28","v":163},{"s":"ua","d":"2016-10-07","v":161},{"s":"ua","d":"2016-10-28","v":170},{"s":"ua","d":"2016-12-01","v":170},{"s":"ua","d":"2016-12-13","v":166},{"s":"ua","d":"2017-01-13","v":168},{"s":"ua","d":"2017-02-10","v":170},{"s":"ua","d":"2017-04-07","v":170},{"s":"ua","d":"2017-05-04","v":172},{"s":"ua","d":"2017-06-01","v":172},{"s":"ua","d":"2017-07-01","v":175},{"s":"ua","d":"2017-07-16","v":178},{"s":"ua","d":"2017-07-28","v":173},{"s":"ua","d":"2017-08-16","v":166},{"s":"ua","d":"2017-09-16","v":161},{"s":"ua","d":"2017-10-22","v":163},{"s":"ua","d":"2017-11-22","v":163},{"s":"ua","d":"2017-12-19","v":164},{"s":"ua","d":"2018-01-16","v":170},{"s":"ua","d":"2018-02-07","v":180},{"s":"ua","d":"2018-02-25","v":190},{"s":"ua","d":"2018-03-04","v":206},{"s":"ua","d":"2018-03-13","v":201},{"s":"ua","d":"2018-04-01","v":204},{"s":"ua","d":"2018-04-22","v":205},{"s":"ua","d":"2018-05-10","v":197},{"s":"ua","d":"2018-05-28","v":185},{"s":"ua","d":"2018-06-19","v":180},{"s":"ua","d":"2018-07-16","v":182},{"s":"ua","d":"2018-08-04","v":190},{"s":"ua","d":"2018-08-13","v":192},{"s":"ua","d":"2018-09-01","v":175},{"s":"ua","d":"2018-09-19","v":166},{"s":"ua","d":"2018-10-19","v":163},{"s":"ua","d":"2018-11-16","v":166},{"s":"ua","d":"2018-12-16","v":170},{"s":"ua","d":"2019-01-13","v":175},{"s":"ua","d":"2019-02-01","v":182},{"s":"ua","d":"2019-02-19","v":178},{"s":"ua","d":"2019-03-10","v":173},{"s":"ua","d":"2019-03-28","v":170},{"s":"ua","d":"2019-04-25","v":168},{"s":"ua","d":"2019-05-16","v":175},{"s":"ua","d":"2019-06-04","v":185},{"s":"ua","d":"2019-06-22","v":192},{"s":"ua","d":"2019-07-10","v":197},{"s":"ua","d":"2019-07-19","v":194},{"s":"ua","d":"2019-07-28","v":180},{"s":"ua","d":"2019-08-19","v":159},{"s":"ua","d":"2019-09-07","v":161},{"s":"ua","d":"2019-09-25","v":166},{"s":"ua","d":"2019-11-13","v":168},{"s":"ua","d":"2019-12-10","v":171},{"s":"ua","d":"2019-12-28","v":180},{"s":"ua","d":"2020-01-19","v":190},{"s":"ua","d":"2020-02-07","v":182},{"s":"ua","d":"2020-02-25","v":178},{"s":"ua","d":"2020-03-13","v":177},{"s":"ua","d":"2020-04-01","v":179},{"s":"ua","d":"2020-04-25","v":170},{"s":"ua","d":"2020-05-19","v":174},{"s":"ua","d":"2020-06-19","v":182},{"s":"ua","d":"2020-07-07","v":183},{"s":"ua","d":"2020-08-01","v":183},{"s":"ua","d":"2020-08-22","v":181},{"s":"ua","d":"2020-09-13","v":190},{"s":"ua","d":"2020-09-25","v":206},{"s":"ua","d":"2020-10-10","v":221},{"s":"ua","d":"2020-10-19","v":233},{"s":"ua","d":"2020-10-28","v":235},{"s":"ua","d":"2020-11-13","v":231},{"s":"ua","d":"2020-11-28","v":233},{"s":"ua","d":"2020-12-07","v":227},{"s":"ua","d":"2020-12-25","v":233},{"s":"ua","d":"2021-01-04","v":248},{"s":"ua","d":"2021-01-13","v":264},{"s":"ua","d":"2021-01-28","v":264},{"s":"ua","d":"2021-02-13","v":262},{"s":"ua","d":"2021-03-01","v":264},{"s":"ua","d":"2021-03-19","v":262},{"s":"ua","d":"2021-04-07","v":266},{"s":"ua","d":"2021-04-28","v":293},{"s":"ua","d":"2021-05-10","v":297},{"s":"ua","d":"2021-05-25","v":295},{"s":"ua","d":"2021-06-04","v":297},{"s":"ua","d":"2021-06-13","v":287},{"s":"ua","d":"2021-06-22","v":281},{"s":"ua","d":"2021-07-13","v":272},{"s":"ua","d":"2021-08-10","v":275},{"s":"ua","d":"2021-08-28","v":277},{"s":"ua","d":"2021-09-19","v":271},{"s":"ua","d":"2021-10-07","v":277},{"s":"ua","d":"2021-10-25","v":281},{"s":"ua","d":"2021-11-13","v":283},{"s":"ua","d":"2021-12-01","v":277},{"s":"ua","d":"2021-12-22","v":275},{"s":"ua","d":"2022-01-10","v":275},{"s":"ua","d":"2022-01-28","v":277},{"s":"ua","d":"2022-02-16","v":291},{"s":"ua","d":"2022-02-28","v":345}
]},
"mark": {"type": "line", "strokeWidth": 3, "interpolate": "linear"},
"encoding": {
  "x": {"field": "d", "type": "temporal",
    "scale": {"type": "utc", "domain": [{"year": 2014, "month": 1, "date": 1, "utc": true}, {"year": 2022, "month": 8, "date": 15, "utc": true}]},
    "axis": {"title": null, "grid": false, "domain": false, "ticks": false, "tickSize": 0,
      "format": "%m-%Y", "labelAngle": -34, "labelPadding": 6, "labelFont": "DejaVu Sans", "labelFontSize": 16, "labelColor": "#262626", "labelOverlap": false, "labelFlush": false,
      "values": [
        {"year":2014,"month":1,"date":1,"utc":true},{"year":2014,"month":6,"date":1,"utc":true},{"year":2014,"month":11,"date":1,"utc":true},
        {"year":2015,"month":4,"date":1,"utc":true},{"year":2015,"month":9,"date":1,"utc":true},{"year":2016,"month":2,"date":1,"utc":true},
        {"year":2016,"month":7,"date":1,"utc":true},{"year":2016,"month":12,"date":1,"utc":true},{"year":2017,"month":5,"date":1,"utc":true},
        {"year":2017,"month":10,"date":1,"utc":true},{"year":2018,"month":3,"date":1,"utc":true},{"year":2018,"month":8,"date":1,"utc":true},
        {"year":2019,"month":1,"date":1,"utc":true},{"year":2019,"month":6,"date":1,"utc":true},{"year":2019,"month":11,"date":1,"utc":true},
        {"year":2020,"month":4,"date":1,"utc":true},{"year":2020,"month":9,"date":1,"utc":true},{"year":2021,"month":2,"date":1,"utc":true},
        {"year":2021,"month":7,"date":1,"utc":true},{"year":2021,"month":12,"date":1,"utc":true},{"year":2022,"month":5,"date":1,"utc":true}
      ]}},
  "y": {"field": "v", "type": "quantitative",
    "scale": {"domain": [130, 450], "nice": false, "zero": false},
    "axis": {"title": "USD/t", "titleFont": "DejaVu Sans", "titleFontSize": 13, "titleFontWeight": "normal", "titleColor": "#262626",
      "titleX": -93, "titleY": 298, "titleAngle": -90, "titleAlign": "center", "titleBaseline": "middle",
      "values": [130,150,170,190,210,230,250,270,290,310,330,350,370,390,410,430,450],
      "grid": true, "gridColor": "#a6a6a6", "gridWidth": 1.3, "domain": false, "ticks": false, "tickSize": 0,
      "labelPadding": 11, "labelFont": "DejaVu Sans", "labelFontSize": 16, "labelColor": "#262626"}},
  "color": {"field": "s", "type": "nominal",
    "scale": {"domain": ["us","br","bs","fr","ar","ua"], "range": ["#00B0F0","#FF0000","#DD8A1E","#262626","#7030A0","#00B050"]},
    "legend": {"title": null, "orient": "none", "legendX": 1140, "legendY": 92, "padding": 0,
      "symbolType": "stroke", "symbolSize": 2025, "symbolStrokeWidth": 3, "rowPadding": -15, "labelOffset": 5,
      "labelFont": "DejaVu Sans", "labelFontSize": 17, "labelColor": "#262626", "labelLimit": 500,
      "labelExpr": "datum.value == 'us' ? 'Maize - US 3YC Gulf - USD 301' : datum.value == 'br' ? 'Maize - Brazil Feed Paranagua - USD 292' : datum.value == 'bs' ? 'Barley - Black Sea feed FOB - USD 280' : datum.value == 'fr' ? 'Barley - France Rouen Feed - USD 282' : datum.value == 'ar' ? 'Maize - Argentina Feed Up River - USD 281' : 'Maize - Ukraine Feed - USD no quotation'"}},
  "strokeDash": {"field": "s", "type": "nominal",
    "scale": {"domain": ["us","br","bs","fr","ar","ua"], "range": [[1,0],[1,0],[9,5],[9,5],[1,0],[1,0]]},
    "legend": {"title": null, "orient": "none", "legendX": 1140, "legendY": 92, "padding": 0,
      "symbolType": "stroke", "symbolSize": 2025, "symbolStrokeWidth": 3, "rowPadding": -15, "labelOffset": 5,
      "labelFont": "DejaVu Sans", "labelFontSize": 17, "labelColor": "#262626", "labelLimit": 500,
      "labelExpr": "datum.value == 'us' ? 'Maize - US 3YC Gulf - USD 301' : datum.value == 'br' ? 'Maize - Brazil Feed Paranagua - USD 292' : datum.value == 'bs' ? 'Barley - Black Sea feed FOB - USD 280' : datum.value == 'fr' ? 'Barley - France Rouen Feed - USD 282' : datum.value == 'ar' ? 'Maize - Argentina Feed Up River - USD 281' : 'Maize - Ukraine Feed - USD no quotation'"}}
}
}
